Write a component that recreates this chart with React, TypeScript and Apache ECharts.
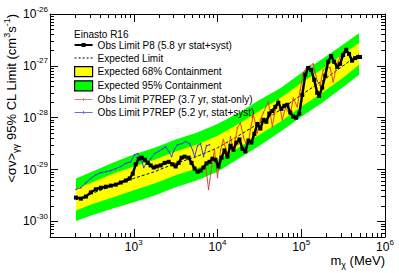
import React, { useEffect, useRef } from "react";
import * as echarts from "echarts";

const FONT = '"Liberation Sans", Arial, Helvetica, sans-serif';

// All values are log10: mass in MeV, <sigma v> in cm^3 s^-1
const bandLogMass = [2.31, 2.5, 2.75, 3.0, 3.25, 3.5, 3.75, 4.0, 4.25, 4.5, 4.75, 5.0, 5.25, 5.5, 5.69];
const expectedLog = [-29.58, -29.46, -29.31, -29.17, -29.04, -28.88, -28.75, -28.58, -28.35, -28.1, -27.85, -27.56, -27.29, -27.0, -26.77];
const lo68Log = [-29.79, -29.67, -29.54, -29.4, -29.27, -29.11, -28.98, -28.81, -28.58, -28.33, -28.08, -27.79, -27.52, -27.23, -26.98];
const hi68Log = [-29.37, -29.25, -29.08, -28.94, -28.81, -28.65, -28.52, -28.35, -28.12, -27.87, -27.62, -27.33, -27.06, -26.77, -26.56];
const lo95Log = [-29.99, -29.88, -29.75, -29.63, -29.5, -29.34, -29.21, -29.04, -28.79, -28.54, -28.27, -27.98, -27.71, -27.41, -27.17];
const hi95Log = [-29.17, -29.04, -28.87, -28.71, -28.58, -28.42, -28.29, -28.12, -27.91, -27.66, -27.43, -27.14, -26.87, -26.59, -26.37];

const obsP8LogMass = [2.31, 2.369, 2.429, 2.488, 2.548, 2.607, 2.667, 2.726, 2.786, 2.845, 2.905, 2.952, 2.988, 3.024, 3.06, 3.095, 3.131, 3.167, 3.202, 3.238, 3.274, 3.321, 3.369, 3.417, 3.464, 3.5, 3.536, 3.571, 3.607, 3.655, 3.69, 3.726, 3.762, 3.798, 3.833, 3.869, 3.905, 3.94, 3.976, 4.012, 4.048, 4.083, 4.119, 4.155, 4.19, 4.226, 4.262, 4.298, 4.333, 4.369, 4.405, 4.44, 4.476, 4.512, 4.548, 4.583, 4.619, 4.655, 4.69, 4.726, 4.762, 4.798, 4.833, 4.869, 4.905, 4.94, 4.976, 5.012, 5.048, 5.083, 5.119, 5.155, 5.19, 5.214, 5.25, 5.286, 5.321, 5.357, 5.393, 5.429, 5.464, 5.5, 5.536, 5.571, 5.607, 5.643, 5.679, 5.702];
const obsP8Log = [-29.54, -29.56, -29.52, -29.44, -29.38, -29.35, -29.33, -29.31, -29.29, -29.25, -29.21, -29.17, -29.08, -28.9, -28.79, -28.77, -28.81, -28.87, -28.92, -28.96, -28.94, -28.92, -28.87, -28.85, -28.9, -28.94, -28.87, -28.77, -28.75, -28.77, -28.87, -28.98, -29.04, -29.02, -28.96, -28.88, -28.85, -28.79, -28.81, -28.94, -28.77, -28.63, -28.75, -28.54, -28.62, -28.48, -28.42, -28.6, -28.65, -28.44, -28.48, -28.31, -28.12, -28.21, -28.04, -28.08, -27.92, -27.87, -27.79, -27.71, -27.83, -27.77, -27.75, -27.9, -27.98, -28.0, -27.92, -27.56, -27.17, -27.04, -27.08, -27.27, -27.52, -27.58, -27.42, -27.19, -26.92, -26.81, -26.92, -27.02, -26.96, -26.79, -26.69, -26.77, -26.9, -26.85, -26.83, -26.83];

const p7StatLogMass = [3.857, 3.893, 3.929, 3.964, 4.0, 4.036, 4.071, 4.119, 4.155, 4.19, 4.238, 4.274, 4.31, 4.357, 4.393, 4.429, 4.476, 4.512, 4.548, 4.607, 4.655, 4.69, 4.726, 4.774, 4.81, 4.869, 4.905, 4.952, 4.988, 5.024, 5.071, 5.107, 5.143, 5.19, 5.226, 5.262, 5.31, 5.345, 5.381, 5.429, 5.464, 5.5];
const p7StatLog = [-28.9, -29.38, -28.96, -28.62, -29.15, -28.62, -28.42, -28.75, -28.37, -28.62, -28.19, -28.1, -28.37, -28.58, -28.23, -27.94, -28.29, -28.04, -27.9, -27.69, -28.17, -27.85, -27.65, -28.04, -27.81, -27.94, -27.62, -27.79, -27.46, -27.13, -27.02, -27.0, -26.96, -27.29, -27.38, -27.08, -27.02, -27.04, -27.31, -26.96, -26.83, -26.73];

const p7SystLogMass = [2.31, 2.369, 2.429, 2.488, 2.548, 2.607, 2.667, 2.726, 2.786, 2.845, 2.905, 2.964, 3.012, 3.048, 3.083, 3.119, 3.155, 3.202, 3.25, 3.298, 3.345, 3.381, 3.417, 3.452, 3.488, 3.524, 3.571, 3.619, 3.667, 3.702, 3.726, 3.762, 3.798, 3.833, 3.869, 3.905];
const p7SystLog = [-29.38, -29.35, -29.25, -29.17, -29.1, -29.06, -29.04, -29.02, -28.98, -28.94, -28.88, -28.85, -28.71, -28.69, -28.77, -28.96, -28.87, -28.79, -28.69, -28.65, -28.6, -28.56, -28.65, -28.75, -28.6, -28.52, -28.5, -28.46, -28.5, -28.62, -28.75, -28.54, -28.5, -28.75, -28.54, -28.52];

const X_MIN = 2;
const X_MAX = 6;
const Y_MIN = -30.3;
const Y_MAX = -26;
const xMajorTicks = [2, 3, 4, 5, 6];
const xLabelValues = [3, 4, 5, 6];
const yMajorTicks = [-30, -29, -28, -27, -26];
const yLabelValues = [-30, -29, -28, -27, -26];

const NAME_OBS = "Obs Limit P8 (5.8 yr stat+syst)";
const NAME_EXP = "Expected Limit";
const NAME_68 = "Expected 68% Containment";
const NAME_95 = "Expected 95% Containment";
const NAME_RED = "Obs Limit P7REP (3.7 yr, stat-only)";
const NAME_BLUE = "Obs Limit P7REP (5.2 yr, stat+syst)";

function minorTicks(lo: number, hi: number): number[] {
  const out: number[] = [];
  for (let n = Math.floor(lo); n < hi; n++) {
    for (let k = 2; k <= 9; k++) {
      const v = n + Math.log10(k);
      if (v > lo && v < hi) out.push(v);
    }
  }
  return out;
}

const labelRich = {
  b: { fontSize: 12, lineHeight: 18, fontFamily: FONT, color: "#000" },
  e: { fontSize: 8, lineHeight: 8, verticalAlign: "top", fontFamily: FONT, color: "#000" },
};
const powLabel = (v: number) => `{b|10}{e|${Math.round(v)}}`;

function bandRenderer(lo: number[], hi: number[], color: string) {
  return (params: any, api: any) => {
    if (params.dataIndex !== 0) return null;
    const top = bandLogMass.map((m, i) => api.coord([m, hi[i]]));
    const bot = bandLogMass.map((m, i) => api.coord([m, lo[i]])).reverse();
    return {
      type: "polygon",
      shape: { points: top.concat(bot) },
      style: { fill: color, stroke: null },
      silent: true,
    };
  };
}

function xAxisDef(position: "top" | "bottom", ticks: number[], len: number, main: boolean, labels: boolean) {
  return {
    type: "value",
    min: X_MIN,
    max: X_MAX,
    position,
    axisLine: { show: main, lineStyle: { color: "#000", width: 1 } },
    axisTick: { show: true, inside: true, length: len, customValues: ticks, lineStyle: { color: "#000", width: 1 } },
    axisLabel: labels
      ? { show: true, customValues: xLabelValues, formatter: powLabel, rich: labelRich, margin: 1 }
      : { show: false },
    splitLine: { show: false },
  };
}

function yAxisDef(position: "left" | "right", ticks: number[], len: number, main: boolean, labels: boolean) {
  return {
    type: "value",
    min: Y_MIN,
    max: Y_MAX,
    position,
    axisLine: { show: main, lineStyle: { color: "#000", width: 1 } },
    axisTick: { show: true, inside: true, length: len, customValues: ticks, lineStyle: { color: "#000", width: 1 } },
    axisLabel: labels
      ? { show: true, customValues: yLabelValues, formatter: powLabel, rich: labelRich, margin: 2 }
      : { show: false },
    splitLine: { show: false },
  };
}

// legend icons: line + marker drawn as one path in an 18x10 box
const ICON_OBS = "path://M0 0M18 10M0 4h18v2h-18zM7 3h4v4h-4z";
const ICON_EXP = "path://M0 0M18 10M0 4.5h2v1h-2zM4 4.5h2v1h-2zM8 4.5h2v1h-2zM12 4.5h2v1h-2zM16 4.5h2v1h-2z";
const ICON_THIN = "path://M0 0M18 10M0 4.5h18v1h-18zM8.5 3.5h1v3h-1z";

export default function App() {
  const ref = useRef<HTMLDivElement>(null);

  useEffect(() => {
    if (!ref.current) return;
    const chart = echarts.init(ref.current, undefined, { renderer: "svg" });
    const xMinor = minorTicks(X_MIN, X_MAX);
    const yMinor = minorTicks(Y_MIN, Y_MAX);

    const option: any = {
      animation: false,
      backgroundColor: "#fff",
      textStyle: { fontFamily: FONT },
      grid: { left: 50, right: 14, top: 14, bottom: 36, containLabel: false },
      title: {
        text: "Einasto R16",
        left: 74,
        top: 29,
        padding: 0,
        textStyle: { fontSize: 10, fontWeight: "normal", fontFamily: FONT, color: "#000" },
      },
      legend: {
        orient: "vertical",
        left: 74,
        top: 40,
        padding: 0,
        itemWidth: 18,
        itemHeight: 10,
        itemGap: 3,
        selectedMode: false,
        textStyle: { fontSize: 10, lineHeight: 10, fontFamily: FONT, color: "#000" },
        data: [
          { name: NAME_OBS, icon: ICON_OBS, itemStyle: { color: "#000" } },
          { name: NAME_EXP, icon: ICON_EXP, itemStyle: { color: "#000" } },
          { name: NAME_68, icon: "rect", itemStyle: { color: "#ffff00", borderColor: "#000", borderWidth: 1.2 } },
          { name: NAME_95, icon: "rect", itemStyle: { color: "#00ff00", borderColor: "#000", borderWidth: 1.2 } },
          { name: NAME_RED, icon: ICON_THIN, itemStyle: { color: "#ec7a7a" } },
          { name: NAME_BLUE, icon: ICON_THIN, itemStyle: { color: "#6b6bf2" } },
        ],
      },
      xAxis: [
        xAxisDef("bottom", xMajorTicks, 8, true, true),
        xAxisDef("bottom", xMinor, 4, false, false),
        xAxisDef("top", xMajorTicks, 8, true, false),
        xAxisDef("top", xMinor, 4, false, false),
      ],
      yAxis: [
        yAxisDef("left", yMajorTicks, 8, true, true),
        yAxisDef("left", yMinor, 4, false, false),
        yAxisDef("right", yMajorTicks, 8, true, false),
        yAxisDef("right", yMinor, 4, false, false),
      ],
      graphic: [
        {
          type: "text",
          x: 11,
          y: 14,
          rotation: Math.PI / 2,
          style: {
            text: "{a|<σv>}{s|γγ}{a| 95% CL Limit (cm}{p|3}{a|s}{p|-1}{a|)}",
            align: "right",
            verticalAlign: "middle",
            fill: "#000",
            rich: {
              a: { fontSize: 13, lineHeight: 18, fontFamily: FONT, fill: "#000" },
              s: { fontSize: 9, lineHeight: 9, verticalAlign: "bottom", fontFamily: FONT, fill: "#000" },
              p: { fontSize: 9, lineHeight: 9, verticalAlign: "top", fontFamily: FONT, fill: "#000" },
            },
          },
        },
        {
          type: "text",
          right: 14,
          top: 254,
          style: {
            text: "{a|m}{s|χ}{a| (MeV)}",
            fill: "#000",
            rich: {
              a: { fontSize: 13, lineHeight: 18, fontFamily: FONT, fill: "#000" },
              s: { fontSize: 9, lineHeight: 9, verticalAlign: "bottom", fontFamily: FONT, fill: "#000" },
            },
          },
        },
      ],
      series: [
        {
          type: "custom",
          name: NAME_95,
          xAxisIndex: 0,
          yAxisIndex: 0,
          renderItem: bandRenderer(lo95Log, hi95Log, "#00ff00"),
          data: bandLogMass.map((m, i) => [m, lo95Log[i], hi95Log[i]]),
          encode: { x: 0, y: [1, 2] },
          itemStyle: { color: "#00ff00" },
          z: 1,
        },
        {
          type: "custom",
          name: NAME_68,
          xAxisIndex: 0,
          yAxisIndex: 0,
          renderItem: bandRenderer(lo68Log, hi68Log, "#ffff00"),
          data: bandLogMass.map((m, i) => [m, lo68Log[i], hi68Log[i]]),
          encode: { x: 0, y: [1, 2] },
          itemStyle: { color: "#ffff00" },
          z: 2,
        },
        {
          type: "line",
          name: NAME_EXP,
          xAxisIndex: 0,
          yAxisIndex: 0,
          data: bandLogMass.map((m, i) => [m, expectedLog[i]]),
          symbol: "none",
          lineStyle: { color: "#000", width: 1, type: [3, 2] },
          itemStyle: { color: "#000" },
          z: 3,
        },
        {
          type: "line",
          name: NAME_BLUE,
          xAxisIndex: 0,
          yAxisIndex: 0,
          data: p7SystLogMass.map((m, i) => [m, p7SystLog[i]]),
          symbol: "circle",
          symbolSize: 1.5,
          showAllSymbol: true,
          lineStyle: { color: "#3b3bf0", width: 1 },
          itemStyle: { color: "#3b3bf0" },
          z: 4,
        },
        {
          type: "line",
          name: NAME_RED,
          xAxisIndex: 0,
          yAxisIndex: 0,
          data: p7StatLogMass.map((m, i) => [m, p7StatLog[i]]),
          symbol: "circle",
          symbolSize: 1.5,
          showAllSymbol: true,
          lineStyle: { color: "#e8403f", width: 1 },
          itemStyle: { color: "#e8403f" },
          z: 5,
        },
        {
          type: "line",
          name: NAME_OBS,
          xAxisIndex: 0,
          yAxisIndex: 0,
          data: obsP8LogMass.map((m, i) => [m, obsP8Log[i]]),
          symbol: "rect",
          symbolSize: 4,
          showAllSymbol: true,
          lineStyle: { color: "#000", width: 2.5 },
          itemStyle: { color: "#000" },
          z: 6,
        },
      ],
    };
    chart.setOption(option);
    return () => chart.dispose();
  }, []);

  return (
    <div
      ref={ref}
      style={{ position: "absolute", left: 0, top: 0, width: 399, height: 273, background: "#fff" }}
    />
  );
}
